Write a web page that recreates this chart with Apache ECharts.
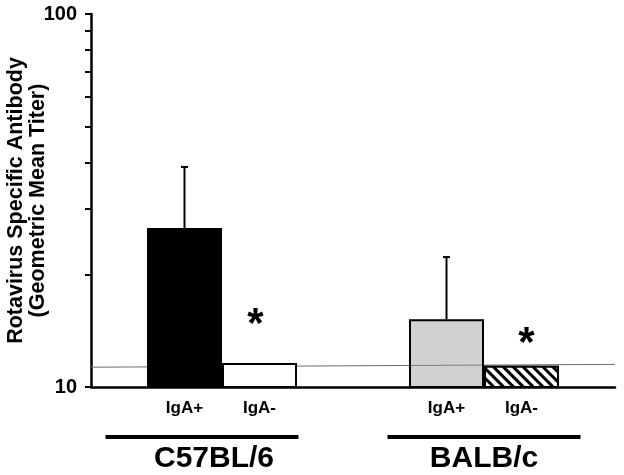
<!DOCTYPE html>
<html>
<head>
<meta charset="utf-8">
<script src="https://cdn.jsdelivr.net/npm/echarts@6/dist/echarts.min.js"></script>
<style>
  html, body { margin: 0; padding: 0; background: #fff; }
  #chart { width: 624px; height: 475px; }
</style>
</head>
<body>
<div id="chart"></div>
<script>
const groups = ['C57BL/6', 'BALB/c']
const subLabels = ['IgA+', 'IgA-']
const igaPos = [26.7, 15.2]
const igaPosErr = [38.9, 22.3]
const igaNeg = [11.6, 11.4]
const sigMark = [15.3, 13.6]
const refLine = [[0, 11.3], [1, 11.5]]
const yTicks = [10, 20, 30, 40, 50, 60, 70, 80, 90, 100]
const yLabels = [10, 100]

const FONT = 'Liberation Sans, Arial, Helvetica, sans-serif'
const BAR_W = 75

const chart = echarts.init(document.getElementById('chart'))

chart.setOption({
  animation: false,
  textStyle: { fontFamily: FONT },
  grid: { left: 91, right: 9, top: 14, bottom: 88, outerBoundsMode: 'none', containLabel: false },
  xAxis: [
    {
      type: 'category',
      data: groups,
      axisLine: { lineStyle: { color: '#000', width: 2.5 } },
      axisTick: { length: 5, lineStyle: { color: '#000', width: 2 } },
      axisLabel: {
        margin: 48,
        interval: 0,
        formatter: (v, i) => i === 0
          ? '{line|}{sp|}\n{t|' + v + '}{sp2|}'
          : '{line|}\n{t|' + v + '}',
        rich: {
          line: { width: 193, height: 4, backgroundColor: '#000' },
          sp: { width: 40, height: 4 },
          sp2: { width: 16 },
          t: { fontSize: 30, fontWeight: 'bold', color: '#000', lineHeight: 40, fontFamily: FONT },
        },
      },
    },
    { type: 'value', min: 0, max: 1, show: false },
  ],
  yAxis: {
    type: 'log',
    logBase: 10,
    min: 10,
    max: 100,
    name: 'Rotavirus Specific Antibody\n(Geometric Mean Titer)',
    nameLocation: 'middle',
    nameGap: 42,
    nameMoveOverlap: false,
    nameRotate: 90,
    nameTextStyle: { fontSize: 21.5, fontWeight: 'bold', color: '#000', lineHeight: 22, fontFamily: FONT },
    axisLine: { show: true, lineStyle: { color: '#000', width: 2.5 } },
    axisTick: { show: true, length: 6, customValues: yTicks, lineStyle: { color: '#000', width: 2 } },
    axisLabel: { customValues: yLabels, fontSize: 20, fontWeight: 'bold', color: '#000', margin: 14, fontFamily: FONT },
    splitLine: { show: false },
  },
  series: [
    {
      name: 'ref',
      type: 'line',
      xAxisIndex: 1,
      data: refLine,
      symbol: 'none',
      z: 1,
      lineStyle: { color: '#6a6a6a', width: 1 },
      silent: true,
    },
    {
      name: subLabels[0],
      type: 'bar',
      barWidth: BAR_W,
      barGap: '0%',
      z: 2,
      data: igaPos.map((v, i) => ({
        value: v,
        itemStyle: i === 0
          ? { color: '#000', borderColor: '#000', borderWidth: 2 }
          : { color: 'rgba(150,150,150,0.45)', borderColor: '#000', borderWidth: 2 },
      })),
      label: {
        show: true, position: 'bottom', distance: 12, formatter: '{a}',
        fontSize: 17, fontWeight: 'bold', color: '#000', fontFamily: FONT,
      },
    },
    {
      name: subLabels[1],
      type: 'bar',
      barWidth: BAR_W,
      barGap: '0%',
      z: 2,
      data: igaNeg.map((v, i) => ({
        value: v,
        itemStyle: i === 0
          ? { color: '#fff', borderColor: '#000', borderWidth: 2 }
          : {
              color: '#fff', borderColor: '#000', borderWidth: 2,
              decal: {
                symbol: 'rect', color: '#000', backgroundColor: '#fff',
                dashArrayX: [1, 0], dashArrayY: [3, 4], rotation: Math.PI / 4,
              },
            },
      })),
      label: {
        show: true, position: 'bottom', distance: 12, formatter: '{a}',
        fontSize: 17, fontWeight: 'bold', color: '#000', fontFamily: FONT,
      },
    },
    {
      name: 'err',
      type: 'custom',
      z: 3,
      data: igaPos.map((v, i) => [i, v, igaPosErr[i]]),
      renderItem: (params, api) => {
        const base = api.coord([api.value(0), api.value(1)])
        const top = api.coord([api.value(0), api.value(2)])
        const x = base[0] - BAR_W / 2
        const s = { stroke: '#000', lineWidth: 2 }
        return {
          type: 'group',
          children: [
            { type: 'line', shape: { x1: x, y1: base[1], x2: x, y2: top[1] }, style: s },
            { type: 'line', shape: { x1: x - 3.5, y1: top[1], x2: x + 3.5, y2: top[1] }, style: s },
          ],
        }
      },
    },
    {
      name: 'sig',
      type: 'custom',
      z: 3,
      data: sigMark.map((v, i) => [i, v]),
      renderItem: (params, api) => {
        const p = api.coord([api.value(0), api.value(1)])
        return {
          type: 'text',
          x: p[0] + BAR_W / 2 + (params.dataIndex === 0 ? -4 : 5),
          y: p[1] + 7,
          style: {
            text: '*', fontSize: 42, fontWeight: 'bold', fill: '#000',
            fontFamily: FONT, align: 'center', verticalAlign: 'middle',
          },
        }
      },
    },
  ],
})
</script>
</body>
</html>
